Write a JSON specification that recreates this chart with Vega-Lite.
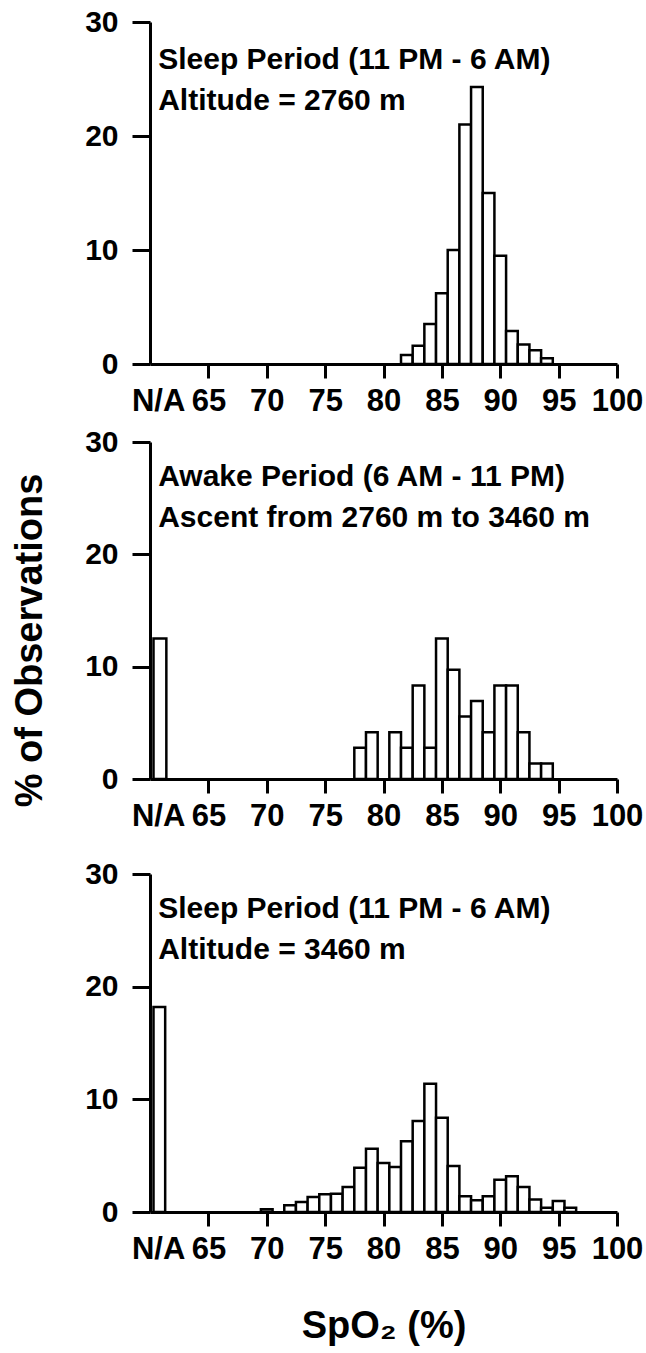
{
  "$schema": "https://vega.github.io/schema/vega-lite/v6.json",
  "background": "white",
  "padding": {"left": 11, "top": 7, "right": 2, "bottom": 2},
  "config": {
    "view": {"stroke": null},
    "axis": {
      "grid": false,
      "domainColor": "black",
      "domainWidth": 3,
      "tickColor": "black",
      "tickWidth": 3,
      "labelFont": "Liberation Sans",
      "labelFontWeight": "bold",
      "labelColor": "black",
      "labelFlush": false,
      "labelBound": false,
      "labelOverlap": false,
      "titleFont": "Liberation Sans",
      "titleFontWeight": "bold",
      "titleFontSize": 38,
      "titleColor": "black"
    },
    "axisX": {"labelFontSize": 31, "tickSize": 14, "labelPadding": 8},
    "axisY": {"labelFontSize": 30, "tickSize": 18, "labelPadding": 14}
  },
  "datasets": {
    "p1": [
      {"lo": 81.5, "hi": 82.5, "pct": 0.8},
      {"lo": 82.5, "hi": 83.5, "pct": 1.6},
      {"lo": 83.5, "hi": 84.5, "pct": 3.5},
      {"lo": 84.5, "hi": 85.5, "pct": 6.2},
      {"lo": 85.5, "hi": 86.5, "pct": 10.0},
      {"lo": 86.5, "hi": 87.5, "pct": 21.0},
      {"lo": 87.5, "hi": 88.5, "pct": 24.3},
      {"lo": 88.5, "hi": 89.5, "pct": 15.0},
      {"lo": 89.5, "hi": 90.5, "pct": 9.5},
      {"lo": 90.5, "hi": 91.5, "pct": 2.9},
      {"lo": 91.5, "hi": 92.5, "pct": 1.7},
      {"lo": 92.5, "hi": 93.5, "pct": 1.2},
      {"lo": 93.5, "hi": 94.5, "pct": 0.5}
    ],
    "p2": [
      {"lo": 60.3, "hi": 61.4, "pct": 12.5},
      {"lo": 77.5, "hi": 78.5, "pct": 2.78},
      {"lo": 78.5, "hi": 79.5, "pct": 4.17},
      {"lo": 80.5, "hi": 81.5, "pct": 4.17},
      {"lo": 81.5, "hi": 82.5, "pct": 2.78},
      {"lo": 82.5, "hi": 83.5, "pct": 8.33},
      {"lo": 83.5, "hi": 84.5, "pct": 2.78},
      {"lo": 84.5, "hi": 85.5, "pct": 12.5},
      {"lo": 85.5, "hi": 86.5, "pct": 9.72},
      {"lo": 86.5, "hi": 87.5, "pct": 5.56},
      {"lo": 87.5, "hi": 88.5, "pct": 6.94},
      {"lo": 88.5, "hi": 89.5, "pct": 4.17},
      {"lo": 89.5, "hi": 90.5, "pct": 8.33},
      {"lo": 90.5, "hi": 91.5, "pct": 8.33},
      {"lo": 91.5, "hi": 92.5, "pct": 4.17},
      {"lo": 92.5, "hi": 93.5, "pct": 1.39},
      {"lo": 93.5, "hi": 94.5, "pct": 1.39}
    ],
    "p3": [
      {"lo": 60.3, "hi": 61.3, "pct": 18.2},
      {"lo": 69.5, "hi": 70.5, "pct": 0.24},
      {"lo": 71.5, "hi": 72.5, "pct": 0.59},
      {"lo": 72.5, "hi": 73.5, "pct": 0.89},
      {"lo": 73.5, "hi": 74.5, "pct": 1.33},
      {"lo": 74.5, "hi": 75.5, "pct": 1.57},
      {"lo": 75.5, "hi": 76.5, "pct": 1.63},
      {"lo": 76.5, "hi": 77.5, "pct": 2.22},
      {"lo": 77.5, "hi": 78.5, "pct": 3.93},
      {"lo": 78.5, "hi": 79.5, "pct": 5.62},
      {"lo": 79.5, "hi": 80.5, "pct": 4.35},
      {"lo": 80.5, "hi": 81.5, "pct": 4.0},
      {"lo": 81.5, "hi": 82.5, "pct": 6.27},
      {"lo": 82.5, "hi": 83.5, "pct": 8.07},
      {"lo": 83.5, "hi": 84.5, "pct": 11.39},
      {"lo": 84.5, "hi": 85.5, "pct": 8.37},
      {"lo": 85.5, "hi": 86.5, "pct": 4.08},
      {"lo": 86.5, "hi": 87.5, "pct": 1.39},
      {"lo": 87.5, "hi": 88.5, "pct": 1.04},
      {"lo": 88.5, "hi": 89.5, "pct": 1.39},
      {"lo": 89.5, "hi": 90.5, "pct": 2.87},
      {"lo": 90.5, "hi": 91.5, "pct": 3.17},
      {"lo": 91.5, "hi": 92.5, "pct": 2.22},
      {"lo": 92.5, "hi": 93.5, "pct": 1.12},
      {"lo": 93.5, "hi": 94.5, "pct": 0.38},
      {"lo": 94.5, "hi": 95.5, "pct": 0.98},
      {"lo": 95.5, "hi": 96.5, "pct": 0.38}
    ]
  },
  "spacing": 28,
  "vconcat": [
    {
      "spacing": 11,
      "vconcat": [
        {
          "width": 467,
          "height": 342,
          "layer": [
            {
              "data": {"name": "p1"},
              "mark": {"type": "bar", "fill": "white", "stroke": "black", "strokeWidth": 2.5},
              "encoding": {
                "x": {"field": "lo", "type": "quantitative", "scale": {"domain": [60, 100], "nice": false, "zero": false},
                  "axis": {"title": null, "values": [60.7, 65, 70, 75, 80, 85, 90, 95, 100],
                    "labelExpr": "datum.value < 62 ? 'N/A' : format(datum.value, 'd')",
                    "tickOpacity": {"condition": {"test": "datum.value < 62", "value": 0}, "value": 1}}},
                "x2": {"field": "hi"},
                "y": {"field": "pct", "type": "quantitative", "scale": {"domain": [0, 30], "nice": false},
                  "axis": {"title": null, "values": [0, 10, 20, 30]}},
                "y2": {"datum": 0}
              }
            },
            {
              "data": {"values": [{}]},
              "mark": {"type": "text", "align": "left", "baseline": "alphabetic", "font": "Liberation Sans", "fontWeight": "bold", "fontSize": 30, "lineHeight": 41, "color": "black",
                "text": ["Sleep Period (11 PM - 6 AM)", "Altitude = 2760 m"]},
              "encoding": {"x": {"datum": 60.7}, "y": {"datum": 25.9}}
            }
          ]
        },
        {
          "width": 467,
          "height": 337,
          "layer": [
            {
              "data": {"name": "p2"},
              "mark": {"type": "bar", "fill": "white", "stroke": "black", "strokeWidth": 2.5},
              "encoding": {
                "x": {"field": "lo", "type": "quantitative", "scale": {"domain": [60, 100], "nice": false, "zero": false},
                  "axis": {"title": null, "values": [60.7, 65, 70, 75, 80, 85, 90, 95, 100],
                    "labelExpr": "datum.value < 62 ? 'N/A' : format(datum.value, 'd')",
                    "tickOpacity": {"condition": {"test": "datum.value < 62", "value": 0}, "value": 1}}},
                "x2": {"field": "hi"},
                "y": {"field": "pct", "type": "quantitative", "scale": {"domain": [0, 30], "nice": false},
                  "axis": {"title": "% of Observations", "titlePadding": 35, "titleY": 198, "values": [0, 10, 20, 30]}},
                "y2": {"datum": 0}
              }
            },
            {
              "data": {"values": [{}]},
              "mark": {"type": "text", "align": "left", "baseline": "alphabetic", "font": "Liberation Sans", "fontWeight": "bold", "fontSize": 30, "lineHeight": 41, "color": "black",
                "text": ["Awake Period (6 AM - 11 PM)", "Ascent from 2760 m  to 3460 m"]},
              "encoding": {"x": {"datum": 60.7}, "y": {"datum": 26.1}}
            }
          ]
        }
      ]
    },
    {
      "width": 467,
      "height": 338,
      "layer": [
        {
          "data": {"name": "p3"},
          "mark": {"type": "bar", "fill": "white", "stroke": "black", "strokeWidth": 2.5},
          "encoding": {
            "x": {"field": "lo", "type": "quantitative", "scale": {"domain": [60, 100], "nice": false, "zero": false},
              "axis": {"title": "SpO₂ (%)", "titlePadding": 43, "values": [60.7, 65, 70, 75, 80, 85, 90, 95, 100],
                "labelExpr": "datum.value < 62 ? 'N/A' : format(datum.value, 'd')",
                "tickOpacity": {"condition": {"test": "datum.value < 62", "value": 0}, "value": 1}}},
            "x2": {"field": "hi"},
            "y": {"field": "pct", "type": "quantitative", "scale": {"domain": [0, 30], "nice": false},
              "axis": {"title": null, "values": [0, 10, 20, 30]}},
            "y2": {"datum": 0}
          }
        },
        {
          "data": {"values": [{}]},
          "mark": {"type": "text", "align": "left", "baseline": "alphabetic", "font": "Liberation Sans", "fontWeight": "bold", "fontSize": 30, "lineHeight": 41, "color": "black",
            "text": ["Sleep Period (11 PM - 6 AM)", "Altitude = 3460 m"]},
          "encoding": {"x": {"datum": 60.7}, "y": {"datum": 26.1}}
        }
      ]
    }
  ]
}
